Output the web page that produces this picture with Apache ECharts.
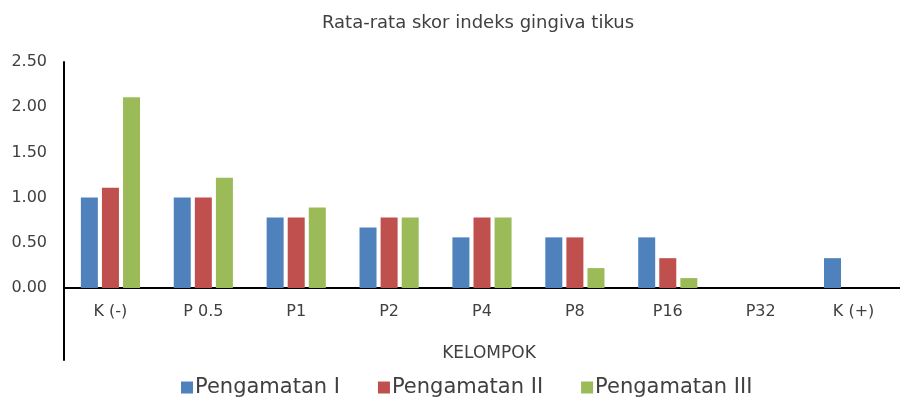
<!DOCTYPE html>
<html>
<head>
<meta charset="utf-8">
<script src="https://cdn.jsdelivr.net/npm/echarts@6/dist/echarts.min.js"></script>
<style>html,body{margin:0;padding:0;background:#fff}#c{width:900px;height:400px}</style>
</head>
<body>
<div id="c"></div>
<script>
const categories = ['K (-)', 'P 0.5', 'P1', 'P2', 'P4', 'P8', 'P16', 'P32', 'K (+)'];
const seriesNames = ['Pengamatan I', 'Pengamatan II', 'Pengamatan III'];
const pengamatan1 = [1.00, 1.00, 0.78, 0.67, 0.56, 0.56, 0.56, 0.00, 0.33];
const pengamatan2 = [1.11, 1.00, 0.78, 0.78, 0.78, 0.56, 0.33, 0.00, 0.00];
const pengamatan3 = [2.11, 1.22, 0.89, 0.78, 0.78, 0.22, 0.11, 0.00, 0.00];
const colors = ['#4F81BD', '#C0504D', '#9BBB59'];
const FONT = 'DejaVu Sans';
const TXT = '#404040';

const chart = echarts.init(document.getElementById('c'));
const dataSets = [pengamatan1, pengamatan2, pengamatan3];
chart.setOption({
  animation: false,
  color: colors,
  textStyle: { fontFamily: FONT },
  title: {
    text: 'Rata-rata skor indeks gingiva tikus',
    left: 473, top: 9, textAlign: 'center',
    textStyle: { fontFamily: FONT, fontSize: 18, fontWeight: 'normal', color: TXT }
  },
  legend: {
    bottom: -3, left: 176,
    itemWidth: 12, itemHeight: 12, itemGap: 38,
    icon: 'rect',
    textStyle: { fontFamily: FONT, fontSize: 21, color: TXT, padding: [0, 0, 0, -3] },
    data: seriesNames
  },
  grid: [
    { left: 64, right: -11, top: 62, bottom: 112 },
    { left: 64, right: -11, top: 62, bottom: 40 }
  ],
  xAxis: [
    {
      type: 'category', data: categories, gridIndex: 0,
      axisLine: { lineStyle: { color: '#000', width: 2 } },
      axisTick: { show: false },
      axisLabel: { fontFamily: FONT, fontSize: 16, color: TXT, margin: 16 },
      name: 'KELOMPOK', nameLocation: 'middle', nameGap: 57,
      nameTextStyle: { fontFamily: FONT, fontSize: 17, color: TXT, padding: [0, 0, 0, 14] }
    },
    { type: 'category', data: categories, gridIndex: 1, show: false }
  ],
  yAxis: [
    {
      type: 'value', gridIndex: 0, min: 0, max: 2.5, interval: 0.5,
      axisLine: { show: false },
      axisTick: { show: false },
      splitLine: { show: false },
      axisLabel: { fontFamily: FONT, fontSize: 16, color: TXT, margin: 17,
        formatter: v => v.toFixed(2) }
    },
    {
      type: 'value', gridIndex: 1, min: 0, max: 1,
      axisLine: { show: true, lineStyle: { color: '#000', width: 2 } },
      axisTick: { show: false }, axisLabel: { show: false }, splitLine: { show: false }
    }
  ],
  series: dataSets.map((d, i) => ({
    name: seriesNames[i], type: 'bar', data: d,
    xAxisIndex: 0, yAxisIndex: 0,
    barWidth: 17, barGap: '24%',
    itemStyle: { color: colors[i] }
  }))
});
</script>
</body>
</html>
